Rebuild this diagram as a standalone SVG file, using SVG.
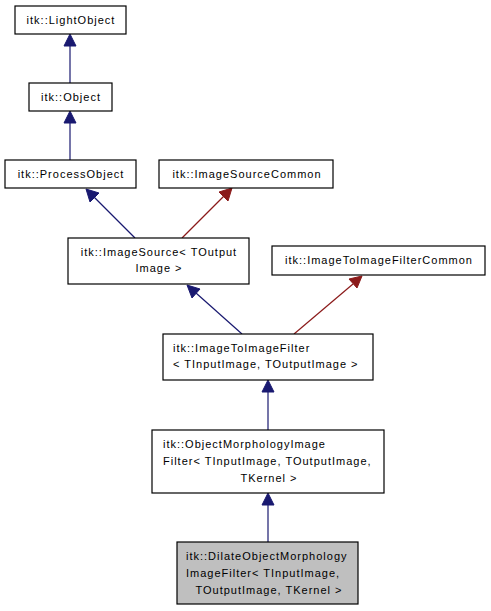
<svg xmlns="http://www.w3.org/2000/svg" width="491" height="611" viewBox="0 0 491 611">
<style>
.n rect{fill:#fff;stroke:#000;stroke-width:1.2}
.n text{font-family:"Liberation Sans",Arial,sans-serif;font-size:11px;letter-spacing:1px;fill:#000}
.c{text-anchor:middle}
.e path{fill:none;stroke-width:1.2}
.b path{stroke:#191970}
.b polygon{fill:#191970;stroke:#191970}
.r path{stroke:#8b1a1a}
.r polygon{fill:#8b1a1a;stroke:#8b1a1a}
</style>
<rect width="491" height="611" fill="#fff"/>
<g id="edges">
<g class="e b"><path d="M70,83 L70,46"/><polygon points="64,46 70,34 76,46"/></g>
<g class="e b"><path d="M70,160 L70,123"/><polygon points="64,123 70,111 76,123"/></g>
<g class="e b"><path d="M135,238 L94,197"/><polygon points="90,202 86,189 99,193"/></g>
<g class="e r"><path d="M182,238 L224,196"/><polygon points="219,192 232,188 228,201"/></g>
<g class="e b"><path d="M242,334 L196,293"/><polygon points="192,298 187,285 200,289"/></g>
<g class="e r"><path d="M294,334 L353,284"/><polygon points="349,279 362,276 357,288"/></g>
<g class="e b"><path d="M268,430 L268,392"/><polygon points="262,392 268,380 274,392"/></g>
<g class="e b"><path d="M268,542 L268,505"/><polygon points="262,505 268,493 274,505"/></g>
</g>
<g id="LightObject" class="n"><rect x="15" y="6" width="111" height="28"/><text class="c" x="71" y="24">itk::LightObject</text></g>
<g id="Object" class="n"><rect x="29" y="83" width="83" height="28"/><text class="c" x="71" y="101">itk::Object</text></g>
<g id="ProcessObject" class="n"><rect x="5" y="160" width="131" height="28"/><text class="c" x="71" y="178">itk::ProcessObject</text></g>
<g id="ImageSourceCommon" class="n"><rect x="159" y="160" width="174" height="28"/><text class="c" x="247" y="178">itk::ImageSourceCommon</text></g>
<g id="ImageSource" class="n"><rect x="68" y="238" width="181" height="46"/><text class="c" x="159" y="256">itk::ImageSource&lt; TOutput</text><text class="c" x="159" y="272">Image &gt;</text></g>
<g id="ImageToImageFilterCommon" class="n"><rect x="272" y="246" width="213" height="29"/><text class="c" x="379" y="264">itk::ImageToImageFilterCommon</text></g>
<g id="ImageToImageFilter" class="n"><rect x="163" y="334" width="210" height="46"/><text x="173" y="352">itk::ImageToImageFilter</text><text x="173" y="368">&lt; TInputImage, TOutputImage &gt;</text></g>
<g id="ObjectMorphologyImageFilter" class="n"><rect x="152" y="430" width="232" height="63"/><text x="163" y="448">itk::ObjectMorphologyImage</text><text x="163" y="465">Filter&lt; TInputImage, TOutputImage,</text><text class="c" x="269" y="482">TKernel &gt;</text></g>
<g id="DilateObjectMorphologyImageFilter" class="n"><rect x="177" y="542" width="181" height="62" style="fill:#bfbfbf"/><text x="186" y="560">itk::DilateObjectMorphology</text><text x="186" y="577">ImageFilter&lt; TInputImage,</text><text class="c" x="269" y="594">TOutputImage, TKernel &gt;</text></g>
</svg>
